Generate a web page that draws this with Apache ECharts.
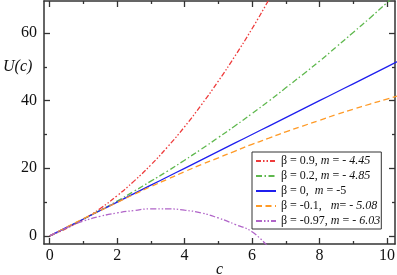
<!DOCTYPE html>
<html><head><meta charset="utf-8">
<script src="https://cdn.jsdelivr.net/npm/echarts@6/dist/echarts.min.js"></script>
<style>html,body{margin:0;padding:0;background:#fff}#c{width:397px;height:275px}</style>
</head><body><div id="c"></div>
<script>
// ---- data ----
const cValues = [0,0.5,1,1.5,2,2.5,3,3.5,4,4.5,5,5.5,6,6.5,7,7.5,8,8.5,9,9.5,10,10.5];
const uRed    = [0,2.2,4.9,8.1,11.9,16.2,21.0,26.4,32.3,38.8,45.8,53.3,61.3,69.9,79.0];
const uGreen  = [0,2.4,5.0,7.6,10.3,13.2,16.2,19.2,22.4,25.7,29.1,32.6,36.2,39.9,43.8,47.7,51.7,55.9,60.2,64.5,69.0,73.6];
const uBlue   = [0,2.5,5,7.5,10,12.5,15,17.5,20,22.5,25,27.5,30,32.5,35,37.5,40,42.5,45,47.5,50,52.5];
const uOrange = [0,2.6,5.1,7.5,9.9,12.3,14.6,16.8,19.0,21.1,23.1,25.1,27.1,28.9,30.8,32.5,34.2,35.9,37.5,39.0,40.5,41.9];
const uPurple = [0,2.4,4.4,5.8,6.8,7.5,8.0,8.0,7.6,6.8,5.3,3.4,1.2,-3.5];
const seriesNames = ['b09','b02','b0','bm01','bm097'];
const legendLabels = [
  '{n|β = 0.9, }{i|m}{n| = }{i|- 4.45}',
  '{n|β = 0.2, }{i|m}{n| = }{i|- 4.85}',
  '{n|β = 0,  }{i|m}{n| = -5}',
  '{n|β = -0.1,   }{i|m}{n|= }{i|- 5.08}',
  '{n|β = -0.97, }{i|m}{n| = }{i|- 6.03}'
];
const xMajorTicks = [0,2,4,6,8,10];
const xMinorTicks = [1,3,5,7,9];
const yMajorTicks = [0,20,40,60];
const yMinorTicks = [10,30,50];
const xLabelRange = [0,10], xLabelStep = 2;
const yLabelRange = [0,60], yLabelStep = 20;

const seriesValues = [uRed,uGreen,uBlue,uOrange,uPurple];
const colors = ['#ee3b3b','#5fb84e','#1f1fee','#ff9a26','#b064c8'];
const dashes = [[5,2,1.5,2,1.5,2],[6,2.5,1.5,2.5],'solid',[6,3.5],[6,2,1.5,2,1.5,2]];

const W=397, H=275;
const X0=-0.17, X1=10.24, Y0=-2.4, Y1=69.5;
const serif = '"Liberation Serif", "Times New Roman", serif';
const axisCol = '#333';

function xAx(pos, ticks, len, line){
  return {type:'value', gridIndex:0, position:pos, min:X0, max:X1,
    axisLine:{show:line, onZero:false, lineStyle:{color:axisCol,width:1.5}},
    axisTick:{show:true, inside:true, length:len, customValues:ticks, lineStyle:{color:axisCol,width:1.3}},
    axisLabel:{show:false}, splitLine:{show:false}};
}
function yAx(pos, ticks, len, line){
  return {type:'value', gridIndex:0, position:pos, min:Y0, max:Y1,
    axisLine:{show:line, onZero:false, lineStyle:{color:axisCol,width:1.5}},
    axisTick:{show:true, inside:true, length:len, customValues:ticks, lineStyle:{color:axisCol,width:1.3}},
    axisLabel:{show:false}, splitLine:{show:false}};
}

const chart = echarts.init(document.getElementById('c'), null, {renderer:'canvas'});
const base = {
  animation:false,
  textStyle:{fontFamily:serif},
  grid:[{left:44, right:2, top:1, bottom:31, containLabel:false, outerBoundsMode:'none'}],
  xAxis:[
    xAx('bottom', xMajorTicks, 6, true),
    xAx('bottom', xMinorTicks, 3, false),
    xAx('top', xMajorTicks, 6, true),
    xAx('top', xMinorTicks, 3, false)
  ],
  yAxis:[
    yAx('left', yMajorTicks, 6, true),
    yAx('left', yMinorTicks, 3, false),
    yAx('right', yMajorTicks, 6, true),
    yAx('right', yMinorTicks, 3, false)
  ],
  legend:{
    orient:'vertical', left:252, top:152,
    padding:[2,1,1,3], itemGap:1, itemWidth:20, itemHeight:10,
    backgroundColor:'#fff', borderColor:'#333', borderWidth:1, borderRadius:0,
    itemStyle:{opacity:0},
    data:seriesNames,
    formatter:function(name){ return legendLabels[seriesNames.indexOf(name)]; },
    textStyle:{fontFamily:serif, fontSize:12, lineHeight:14, color:'#111',
      rich:{n:{fontFamily:serif,fontSize:12,lineHeight:14,color:'#111'}, i:{fontFamily:serif,fontSize:12,lineHeight:14,fontStyle:'italic',color:'#111'}}}
  },
  graphic:[
    {type:'text', left:3, top:59, style:{text:'U(c)', font:'italic 16px "Liberation Serif"', fill:'#111'}},
    {type:'text', left:216, top:262, style:{text:'c', font:'italic 16px "Liberation Serif"', fill:'#111'}}
  ],
  series: seriesNames.map((nm,k)=>({
    name:nm, type:'line', xAxisIndex:0, yAxisIndex:0, symbol:'none', smooth:true, clip:true,
    data: seriesValues[k].map((v,i)=>[cValues[i], v]),
    lineStyle:{color:colors[k], width:1.3, type:dashes[k]},
    itemStyle:{color:colors[k], opacity:0}
  }))
};
chart.setOption(base);

// label-only grids aligned to the main axes' scale
const px0 = chart.convertToPixel({xAxisIndex:0}, xLabelRange[0]);
const px1 = chart.convertToPixel({xAxisIndex:0}, xLabelRange[1]);
const py0 = chart.convertToPixel({yAxisIndex:0}, yLabelRange[0]);
const py1 = chart.convertToPixel({yAxisIndex:0}, yLabelRange[1]);
const lblStyle = {color:'#111', fontFamily:serif, fontSize:16};
const hidden = {axisLine:{show:false}, axisTick:{show:false}, splitLine:{show:false}};
chart.setOption({
  grid:[
    base.grid[0],
    {left:px0, right:W-px1, top:1, bottom:31, containLabel:false, outerBoundsMode:'none', show:false},
    {left:44, right:2, top:py1, bottom:H-py0, containLabel:false, outerBoundsMode:'none', show:false}
  ],
  xAxis: base.xAxis.concat([
    Object.assign({type:'value', gridIndex:1, position:'bottom', min:xLabelRange[0], max:xLabelRange[1], interval:xLabelStep,
      axisLabel:Object.assign({margin:4}, lblStyle)}, hidden),
    Object.assign({type:'value', gridIndex:2, show:false}, hidden)
  ]),
  yAxis: base.yAxis.concat([
    Object.assign({type:'value', gridIndex:1, show:false}, hidden),
    Object.assign({type:'value', gridIndex:2, position:'left', min:yLabelRange[0], max:yLabelRange[1], interval:yLabelStep,
      axisLabel:Object.assign({margin:7}, lblStyle)}, hidden)
  ])
});
</script></body></html>
